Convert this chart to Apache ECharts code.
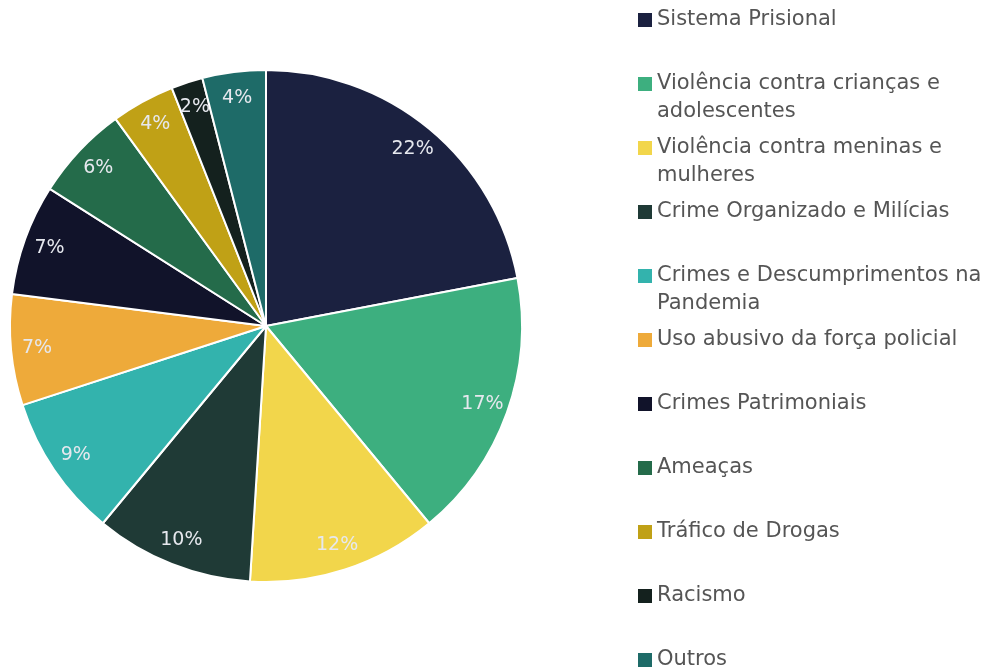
<!DOCTYPE html>
<html><head><meta charset="utf-8">
<script src="https://cdn.jsdelivr.net/npm/echarts@6/dist/echarts.min.js"></script>
<style>html,body{margin:0;padding:0;background:#fff}#c{width:995px;height:668px}</style>
</head><body><div id="c"></div>
<script>
const categories = [
  'Sistema Prisional',
  'Violência contra crianças e\nadolescentes',
  'Violência contra meninas e\nmulheres',
  'Crime Organizado e Milícias',
  'Crimes e Descumprimentos na\nPandemia',
  'Uso abusivo da força policial',
  'Crimes Patrimoniais',
  'Ameaças',
  'Tráfico de Drogas',
  'Racismo',
  'Outros'
];
const values = [22, 17, 12, 10, 9, 7, 7, 6, 4, 2, 4];
const colors = ['#1b2140','#3daf7f','#f2d64b','#1f3a36','#33b3ad','#eeaa3a','#11132a','#246b4a','#c0a116','#14211e','#1e6b68'];

const data = categories.map((c, i) => ({ name: c, value: values[i] }));
const FONT = "'DejaVu Sans', sans-serif";
const rich = { t: { fontSize: 21, lineHeight: 28, color: '#555', fontFamily: FONT }, g: { width: 5 }, sp: { width: 19 } };
colors.forEach((col, i) => { rich['sq' + i] = { width: 14, height: 14, backgroundColor: col }; });

const chart = echarts.init(document.getElementById('c'));
chart.setOption({
  color: colors,
  animation: false,
  legend: {
    orient: 'vertical',
    left: 628,
    top: 1,
    height: 900,
    icon: 'none',
    itemWidth: 0,
    itemHeight: 12,
    itemGap: 8,
    data: categories,
    formatter: function (name) {
      const i = categories.indexOf(name);
      const lines = name.split('\n');
      let s = '{sq' + i + '|}{g|}{t|' + lines[0] + '}\n';
      s += lines.length > 1 ? '{sp|}{t|' + lines[1] + '}' : '{t| }';
      return s;
    },
    textStyle: { rich: rich, fontSize: 21, lineHeight: 28, fontFamily: FONT }
  },
  series: [
    {
      type: 'pie',
      center: [266, 326],
      radius: [0, 256],
      startAngle: 90,
      clockwise: true,
      data: data,
      itemStyle: { borderColor: '#fff', borderWidth: 2 },
      label: { show: false },
      labelLine: { show: false },
      emphasis: { disabled: true }
    },
    {
      type: 'pie',
      center: [266, 326],
      radius: [200, 254],
      startAngle: 90,
      clockwise: true,
      silent: true,
      data: data,
      itemStyle: { color: 'rgba(0,0,0,0)' },
      label: {
        show: true,
        position: 'inside',
        formatter: '{d}%',
        color: '#e6e8ee',
        fontSize: 19,
        fontFamily: FONT
      },
      labelLine: { show: false },
      emphasis: { disabled: true }
    }
  ]
});
</script></body></html>
